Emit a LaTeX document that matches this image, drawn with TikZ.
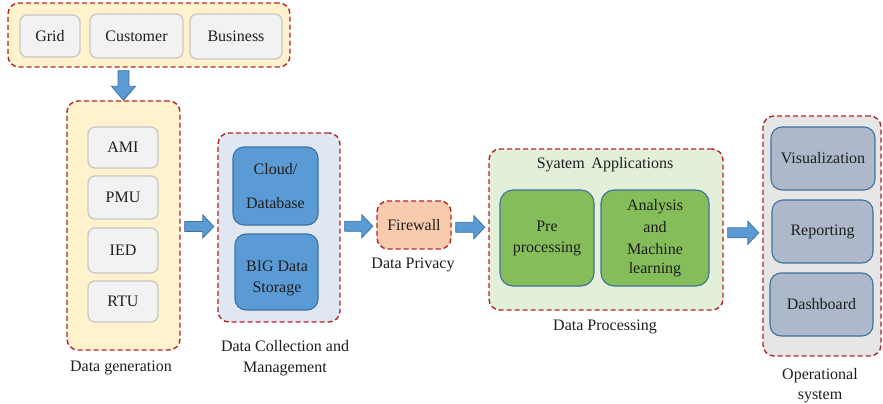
\documentclass[tikz,border=0pt]{standalone}
\usepackage{fontspec}
\setmainfont{Liberation Serif}
\usetikzlibrary{calc}

\definecolor{dashred}{RGB}{178,38,38}
\definecolor{txt}{RGB}{30,30,30}
\definecolor{paleyellow}{RGB}{255,242,204}
\definecolor{paleblue}{RGB}{222,231,242}
\definecolor{palegreen}{RGB}{226,240,217}
\definecolor{palegray}{RGB}{231,230,230}
\definecolor{peach}{RGB}{248,203,173}
\definecolor{chipgray}{RGB}{242,242,242}
\definecolor{chipedge}{RGB}{200,200,200}
\definecolor{midblue}{RGB}{91,155,213}
\definecolor{deepblue}{RGB}{65,113,156}
\definecolor{leafgreen}{RGB}{132,189,90}
\definecolor{slate}{RGB}{173,185,202}

% box given by its two corners (x1,y1) (x2,y2) in pixel units
\newcommand\plate[6]{\node[#1, minimum width={#4-#2}, minimum height={#5-#3}] (#6) at ({(#2+#4)/2},{(#3+#5)/2})}

% horizontal block arrow between two nodes
\newcommand\rightblock[2]{%
  \filldraw[blockarrow] let \p1=(#1.east), \p2=(#2.west),
    \p3=($(#1.center)!0.5!(#2.center)$) in
    ({\x1+4pt},{\y3+5pt}) -- ({\x2-14.5pt},{\y3+5pt}) -- ({\x2-14.5pt},{\y3+11.5pt})
    -- ({\x2-3.5pt},\y3) -- ({\x2-14.5pt},{\y3-11.5pt}) -- ({\x2-14.5pt},{\y3-5pt})
    -- ({\x1+4pt},{\y3-5pt}) -- cycle;}

\begin{document}
\begin{tikzpicture}[x=1pt,y=-1pt,
  font=\fontsize{16}{19}\selectfont,
  group/.style={draw=dashred, dash pattern=on 5pt off 3pt, line width=1.4pt,
    rounded corners=11pt, inner sep=0pt},
  chip/.style={draw=chipedge, fill=chipgray, line width=1.3pt, rounded corners=7pt,
    inner sep=0pt, align=center, text=txt},
  bluechip/.style={draw=deepblue, fill=midblue, line width=1.1pt, rounded corners=11pt,
    inner sep=0pt, align=center, text=txt},
  greenchip/.style={draw=deepblue, fill=leafgreen, line width=1.1pt, rounded corners=13pt,
    inner sep=0pt, align=center, text=txt},
  slatechip/.style={draw=deepblue, fill=slate, line width=1.1pt, rounded corners=11pt,
    inner sep=0pt, align=center, text=txt},
  caption/.style={align=center, text=txt, inner sep=0pt},
  blockarrow/.style={fill=midblue, draw=deepblue, line width=0.8pt, line join=miter}]

\useasboundingbox (0,0) rectangle (883,404);

% containers
\plate{group, fill=paleyellow}{8}{3}{290}{67}{top} {};
\plate{group, fill=paleyellow}{67}{101}{180}{350}{gen} {};
\plate{group, fill=paleblue}{218}{133}{340}{322}{coll} {};
\plate{group, fill=peach}{377}{201}{451}{249}{fw} {\textcolor{txt}{Firewall}};
\plate{group, fill=palegreen}{489}{149}{723}{310}{proc} {};
\plate{group, fill=palegray}{763}{116}{881}{356}{oper} {};

% sources
\plate{chip}{20}{15}{80}{57}{grid} {Grid};
\plate{chip}{90}{14}{183}{58}{cust} {Customer};
\plate{chip}{190}{14}{282}{59}{bus} {Business};

% data generation devices
\plate{chip}{88}{127}{158}{168}{ami} {AMI};
\plate{chip}{88}{176}{158}{219}{pmu} {PMU};
\plate{chip}{88}{228}{158}{273}{ied} {IED};
\plate{chip}{88}{281}{158}{322}{rtu} {RTU};

% storage
\plate{bluechip}{233}{147}{318}{225}{cloud} {Cloud/\\[15pt]Database};
\plate{bluechip}{235}{234}{318}{310}{big} {};
\node[caption, font=\fontsize{16}{21}\selectfont] (bigtext) at (277,278.5) {BIG Data\\Storage};

% processing
\node[caption] (sysapp) at (605,165) {Syatem\, Applications};
\plate{greenchip}{500}{190}{594}{286}{pre} {};
\node[caption, font=\fontsize{16}{21}\selectfont] (pretext) at (547,238.5) {Pre\\processing};
\plate{greenchip}{601}{190}{709}{286}{ana} {Analysis\\[3pt]and\\[3pt]Machine\\learning};

% outputs
\plate{slatechip}{771}{127}{875}{190}{vis} {Visualization};
\plate{slatechip}{772}{200}{873}{263}{rep} {Reporting};
\plate{slatechip}{770}{273}{873}{336}{dash} {Dashboard};

% captions
\node[caption] (capgen) at (121,368) {Data generation};
\node[caption, font=\fontsize{16}{21}\selectfont] (capcoll) at (285,358) {Data Collection and\\Management};
\node[caption] (capfw) at (413,265) {Data Privacy};
\node[caption] (capproc) at (605,327) {Data Processing};
\node[caption, font=\fontsize{16}{20}\selectfont] (capoper) at (820,386) {Operational\\system};

% flow arrows
\filldraw[blockarrow] let \p1=(top.south), \p2=(gen.north) in
  ({\x2-5.5pt},{\y1-3pt}) -- ({\x2+5.5pt},{\y1-3pt}) -- ({\x2+5.5pt},{\y2+14pt})
  -- ({\x2+12pt},{\y2+14pt}) -- (\x2,\y2) -- ({\x2-12pt},{\y2+14pt})
  -- ({\x2-5.5pt},{\y2+14pt}) -- cycle;
\rightblock{gen}{coll}
\rightblock{coll}{fw}
\rightblock{fw}{proc}
\rightblock{proc}{oper}

\end{tikzpicture}
\end{document}
